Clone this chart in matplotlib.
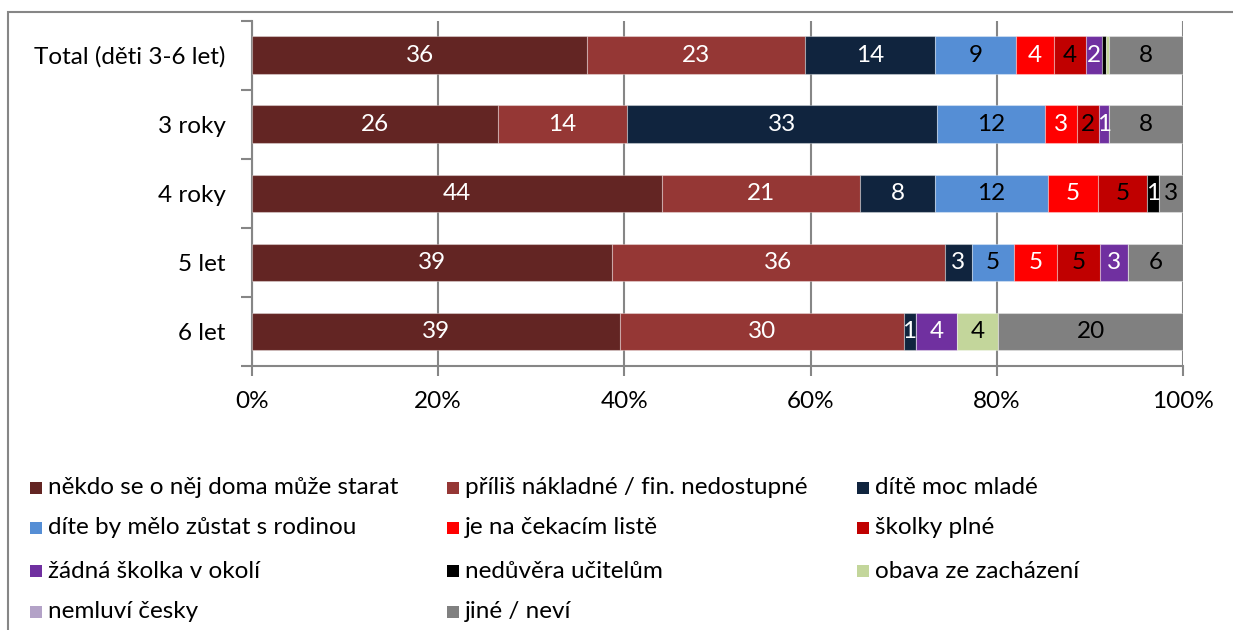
import numpy as np
import matplotlib
matplotlib.use("Agg")
import matplotlib.pyplot as plt
from matplotlib.patches import Rectangle

plt.rcParams['font.family'] = ['Lato', 'DejaVu Sans']

categories = ['Total (děti 3-6 let)', '3 roky', '4 roky', '5 let', '6 let']

# share of answers (%) per reason, one value per category
nekdo = [36.0, 26.4, 44.05, 38.7, 39.49]
prilis = [23.4, 13.9, 21.3, 35.7, 30.49]
mlade = [14.0, 33.3, 8.0, 2.9, 1.3]
rodina = [8.7, 11.6, 12.1, 4.6, 0.0]
cekaci = [4.0, 3.4, 5.4, 4.6, 0.0]
plne = [3.5, 2.4, 5.3, 4.6, 0.0]
zadna = [1.65, 1.0, 0.0, 3.0, 4.45]
neduvera = [0.43, 0.0, 1.25, 0.0, 0.0]
obava = [0.35, 0.0, 0.0, 0.0, 4.45]
nemluvi = [0.05, 0.0, 0.0, 0.0, 0.0]
jine = [7.9, 8.0, 2.6, 5.9, 19.8]

series = [
    ('někdo se o něj doma může starat', nekdo, '#632523', 'white'),
    ('příliš nákladné / fin. nedostupné', prilis, '#953735', 'white'),
    ('dítě moc mladé', mlade, '#10243E', 'white'),
    ('díte by mělo zůstat s rodinou', rodina, '#558ED5', 'black'),
    ('je na čekacím listě', cekaci, '#FF0000', 'white'),
    ('školky plné', plne, '#C00000', 'black'),
    ('žádná školka v okolí', zadna, '#7030A0', 'white'),
    ('nedůvěra učitelům', neduvera, '#000000', 'white'),
    ('obava ze zacházení', obava, '#C3D69B', 'black'),
    ('nemluví česky', nemluvi, '#B3A2C7', 'black'),
    ('jiné / neví', jine, '#808080', 'black'),
]

FS = 17.5
W, H = 1233, 630
fig = plt.figure(figsize=(W / 100, H / 100), dpi=100)
ax = fig.add_axes([252 / W, 1 - 366 / H, (1183 - 252) / W, (366 - 20.7) / H])

y = np.arange(len(categories))
left = np.zeros(len(categories))
for name, vals, col, tcol in series:
    vals = np.array(vals)
    ax.barh(y, vals, left=left, height=0.545, color=col,
            edgecolor=(1, 1, 1, 0.35), linewidth=0.8, zorder=3)
    for yi, (l, v) in enumerate(zip(left, vals)):
        if v >= 0.95:
            ax.text(l + v / 2, yi, f'{v:.0f}', ha='center', va='center',
                    color=tcol, fontsize=FS, zorder=4)
    left += vals

ax.set_xlim(0, 100)
ax.set_ylim(len(categories) - 0.5, -0.5)
ax.set_xticks(np.arange(0, 101, 20))
ax.set_xticklabels([f'{t}%' for t in range(0, 101, 20)], fontsize=FS)
ax.set_yticks(y)
ax.set_yticklabels(categories, fontsize=FS)
ax.tick_params(axis='y', length=0, pad=19)
ax.set_yticks(np.arange(-0.5, len(categories), 1), minor=True)
ax.tick_params(axis='y', which='minor', length=8, width=1.5, color='#868686')
ax.tick_params(axis='x', length=7, width=1.5, color='#868686', pad=11)
ax.grid(axis='x', color='#868686', linewidth=1.5, zorder=0)
for s in ['top', 'right']:
    ax.spines[s].set_visible(False)
for s in ['left', 'bottom']:
    ax.spines[s].set_color('#868686')
    ax.spines[s].set_linewidth(1.5)

# legend, laid out like the Excel one
col_x = [30, 447, 857]
row_y = [488, 528, 571, 612]
for i, (name, vals, col, tcol) in enumerate(series):
    r, c = divmod(i, 3)
    x0, y0 = col_x[c], row_y[r]
    fig.add_artist(Rectangle((x0 / W, 1 - (y0 + 6) / H), 12 / W, 12 / H,
                             transform=fig.transFigure, facecolor=col,
                             edgecolor='none'))
    fig.text((x0 + 18) / W, 1 - y0 / H, name, fontsize=FS,
             ha='left', va='center')

# outer chart frame
fig.add_artist(Rectangle((8 / W, -0.1), 1.2, 1 - 12 / H + 0.1,
                         transform=fig.transFigure, fill=False,
                         edgecolor='#868686', linewidth=1.5))

fig.savefig('out.png', dpi=100)
